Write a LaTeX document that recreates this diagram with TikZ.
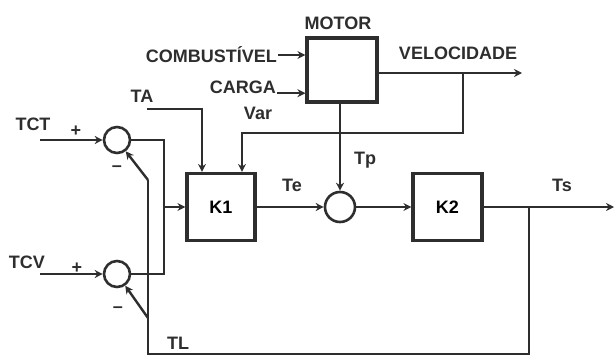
\documentclass[tikz,border=0pt]{standalone}
\usepackage{fontspec}
\setmainfont{Liberation Sans}
\usepackage{tikz}
\usetikzlibrary{arrows.meta, positioning, calc}
\definecolor{blkline}{HTML}{2E2E2E}

\begin{document}
\begin{tikzpicture}[x=10pt, y=-10pt, font=\fontsize{18}{20}\selectfont\bfseries,
      box/.style={draw=blkline, line width=3.2pt, fill=white, minimum width=68pt, minimum height=67pt, inner sep=0pt},
      summ/.style={draw=blkline, line width=2.6pt, circle, minimum size=26pt, inner sep=0pt},
      lbl/.style={text=blkline, inner sep=1pt},
      wire/.style={draw=blkline, line width=2.4pt},
      arr/.style={wire, -{Stealth[length=8pt, width=8pt]}}]

      \useasboundingbox (0,0) rectangle (61.6,35.6);

      \node[box, minimum width=70pt, minimum height=64pt] (motor) at (34.2,7.0) {};
      \node[box] (k1) at (22.1,20.7) {K1};
      \node[box, minimum width=69pt] (k2) at (44.75,20.7) {K2};
      \node[summ] (sumA) at (11.7,14.0) {};
      \node[summ] (sumB) at (11.7,27.4) {};
      \node[summ, minimum size=30pt] (sumC) at (34.0,20.7) {};

      \node[lbl] (lbMotor) at (33.8,2.3) {MOTOR};
      \node[lbl, anchor=east] (lbComb) at (27.8,5.5) {COMBUSTÍVEL};
      \node[lbl, anchor=east] (lbCarga) at (27.7,8.7) {CARGA};
      \node[lbl] (lbVar) at (25.8,11.3) {Var};
      \node[lbl] (lbVel) at (45.8,5.3) {VELOCIDADE};
      \node[lbl] (lbTA) at (14.2,9.6) {TA};
      \node[lbl] (lbTe) at (29.2,18.5) {Te};
      \node[lbl] (lbTp) at (36.5,16.0) {Tp};
      \node[lbl] (lbTs) at (56.2,18.5) {Ts};
      \node[lbl] (lbTL) at (17.8,34.3) {TL};
      \node[lbl] (lbTCT) at (3.3,12.4) {TCT};
      \node[lbl] (lbTCV) at (2.7,26.2) {TCV};
      \node[lbl] (plusA) at (7.6,13.1) {+};
      \node[lbl] (plusB) at (7.7,26.8) {+};
      \node[lbl] (minusA) at (11.7,16.9) {--};
      \node[lbl] (minusB) at (11.8,31.0) {--};

      \coordinate (inTCT) at (4.0,14.0); \coordinate (inTCV) at (4.0,27.4);
      \coordinate (busTop) at (16.4,14.0); \coordinate (busBot) at (16.4,27.4); \coordinate (busMid) at (16.4,20.7);
      \coordinate (inTA) at (14.7,10.9); \coordinate (taK) at (20.2,10.9);
      \coordinate (velTap) at (46.3,7.3); \coordinate (velEnd) at (52.2,7.3); \coordinate (velK) at (24.2,13.3);
      \coordinate (tsTap) at (52.9,20.7); \coordinate (tsEnd) at (61.4,20.7);
      \coordinate (fbBR) at (52.9,35.4); \coordinate (fbBL) at (14.8,35.4);
      \coordinate (tlKnee) at (14.8,18.0); \coordinate (tlTap) at (14.8,31.8);

      \draw[arr] (inTCT)--(sumA); \draw[arr] (inTCV)--(sumB);
      \draw[wire] (sumA.east)--(busTop)--(busBot)--(sumB.east); \draw[arr] (busMid)--(k1.west);
      \draw[arr] (inTA)--(taK)--(taK |- k1.north);
      \draw[arr] (lbComb.east)--(lbComb.east -| motor.west); \draw[arr] (lbCarga.base east)--(lbCarga.base east -| motor.west);
      \draw[arr] (motor.east |- velEnd)--(velEnd);
      \draw[arr] (velTap) |- (velK)--(velK |- k1.north);
      \draw[arr] (motor.south -| sumC)--(sumC.north);
      \draw[arr] (k1.east |- sumC)--(sumC.west); \draw[arr] (sumC.east)--(k2.west |- sumC);
      \draw[arr] (k2.east)--(tsEnd);
      \draw[wire] (tsTap)--(fbBR)--(fbBL)--(tlKnee);
      \draw[arr] (tlKnee)--(sumA); \draw[arr] (tlTap)--(sumB);
    \end{tikzpicture}
\end{document}
